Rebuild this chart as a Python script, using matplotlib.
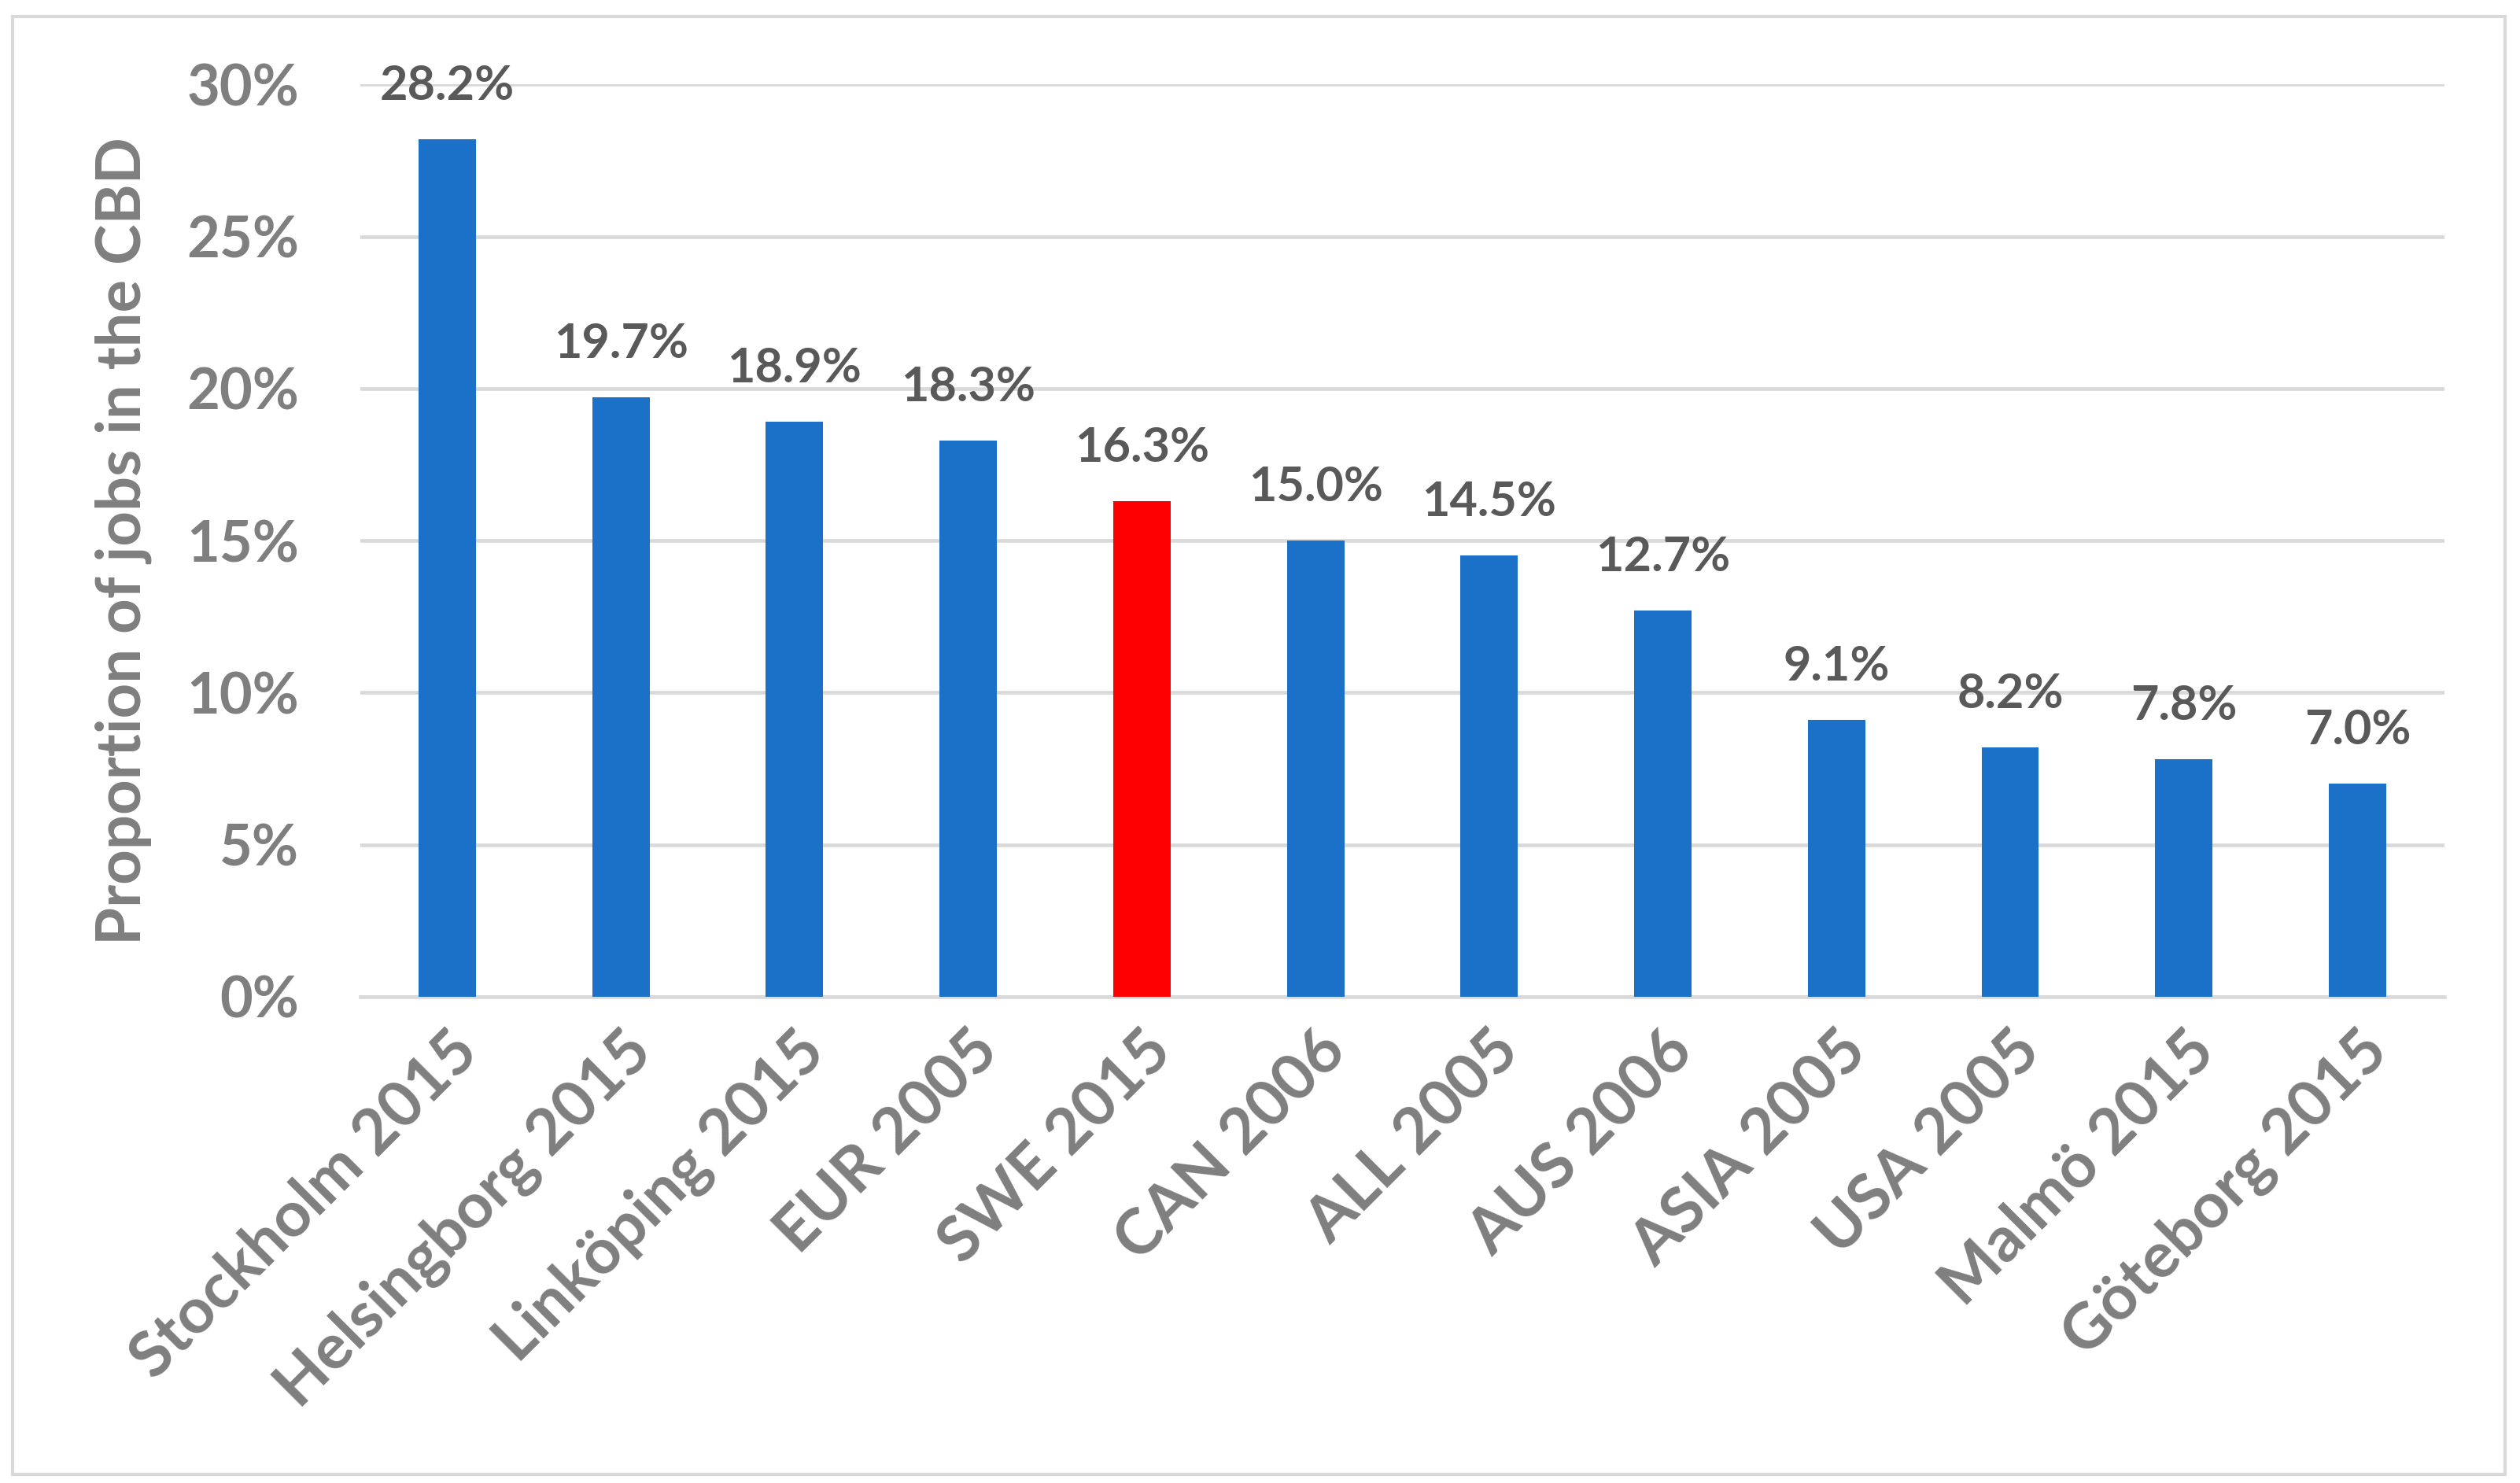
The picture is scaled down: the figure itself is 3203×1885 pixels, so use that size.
import matplotlib
matplotlib.use("Agg")
import matplotlib.pyplot as plt
from matplotlib.patches import Rectangle

# data
places = ["Stockholm 2015", "Helsingborg 2015", "Linköping 2015", "EUR 2005",
          "SWE 2015", "CAN 2006", "ALL 2005", "AUS 2006", "ASIA 2005",
          "USA 2005", "Malmö 2015", "Göteborg 2015"]
share = [28.2, 19.7, 18.9, 18.3, 16.3, 15.0, 14.5, 12.7, 9.1, 8.2, 7.8, 7.0]
yticks = [0, 5, 10, 15, 20, 25, 30]

blue = "#1b70c7"
red = "#ff0000"
colors = [red if p == "SWE 2015" else blue for p in places]

plt.rcParams["font.family"] = ["Lato", "DejaVu Sans"]
plt.rcParams["font.weight"] = "bold"

fig = plt.figure(figsize=(32.03, 18.85), dpi=100)
ax = fig.add_axes([0.143, 0.328, 0.827, 0.615])

x = list(range(len(places)))
bars = ax.bar(x, share, width=0.33, color=colors, zorder=3)

# value labels above bars
for xi, v in zip(x, share):
    ax.annotate(f"{v:.1f}%", (xi, v), xytext=(0, 36), textcoords="offset points",
                ha="center", va="baseline", fontsize=44, color="#595959",
                fontweight="bold", clip_on=False)

ax.set_ylim(0, 30)
ax.set_xlim(-0.5, len(places) - 0.5)
ax.set_yticks(yticks)
ax.set_yticklabels([f"{t}%" for t in yticks])
ax.yaxis.grid(True, color="#d9d9d9", linewidth=3.3, zorder=0)
ax.set_axisbelow(True)

for s in ["top", "right", "left"]:
    ax.spines[s].set_visible(False)
ax.spines["bottom"].set_color("#d9d9d9")
ax.spines["bottom"].set_linewidth(3.3)

ax.tick_params(axis="y", length=0, pad=56, labelsize=52, labelcolor="#7f7f7f")
ax.tick_params(axis="x", length=0, pad=22, labelsize=58, labelcolor="#7f7f7f")
ax.set_xticks(x)
ax.set_xticklabels(places, rotation=45, ha="right", rotation_mode="anchor")

ax.set_ylabel("Proportion of jobs in the CBD", fontsize=56, color="#7f7f7f",
              fontweight="bold")
ax.yaxis.set_label_coords(-0.10, 0.5)

# light grey frame round the chart
fig.patches.append(Rectangle((0.005, 0.006), 0.989, 0.983, transform=fig.transFigure,
                             fill=False, edgecolor="#d9d9d9", linewidth=3))

fig.savefig("out.png", dpi=100, facecolor="white")
